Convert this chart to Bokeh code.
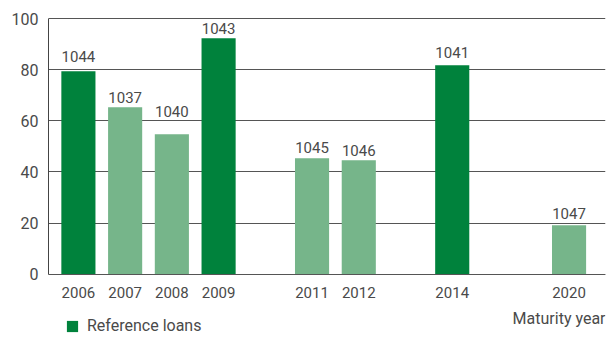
from bokeh.plotting import figure
from bokeh.models import (ColumnDataSource, Range1d, FixedTicker, Legend, LegendItem, Label)
from bokeh.core.properties import value
from bokeh.embed import file_html
from bokeh.resources import INLINE

# ---- data ----
years = ["2006", "2007", "2008", "2009", "2011", "2012", "2014", "2020"]
slots = [0, 1, 2, 3, 5, 6, 8, 10.5]          # category slot on the (broken) year axis
amounts = [79.5, 65.4, 54.8, 92.4, 45.4, 44.6, 81.8, 19.1]
loan_ids = ["1044", "1037", "1040", "1043", "1045", "1046", "1041", "1047"]
label_y = [85.4, 69.3, 63.5, 96.0, 49.5, 48.5, 86.6, 23.8]
is_reference = [True, False, False, True, False, False, True, False]
y_ticks = [0, 20, 40, 60, 80, 100]

DARK = "#00823C"
LIGHT = "#76B58A"
TXT = "#4a4a4a"
FONT = "Roboto"

X0, X1 = -0.64, 11.28
p = figure(width=615, height=338, output_backend="svg", toolbar_location=None,
           x_range=Range1d(X0, X1), y_range=Range1d(-25.2, 100.5),
           min_border_left=48, min_border_right=10, min_border_top=17, min_border_bottom=0)
p.outline_line_color = None
p.background_fill_color = "white"
p.border_fill_color = "white"

def pick(flag):
    idx = [i for i, f in enumerate(is_reference) if f == flag]
    return ColumnDataSource(dict(x=[slots[i] for i in idx], top=[amounts[i] for i in idx]))

r_dark = p.vbar(x="x", top="top", width=0.73, source=pick(True), fill_color=DARK, line_color=None)
r_light = p.vbar(x="x", top="top", width=0.73, source=pick(False), fill_color=LIGHT, line_color=None)

lab_src = ColumnDataSource(dict(x=slots, y=label_y, t=loan_ids))
p.text(x="x", y="y", text="t", source=lab_src, text_align="center", text_baseline="alphabetic",
       text_font=value(FONT), text_font_size="15px", text_color=TXT)

# grid
p.xgrid.grid_line_color = None
p.ygrid.grid_line_color = "#555555"
p.ygrid.ticker = FixedTicker(ticks=y_ticks)

# y axis
p.yaxis.ticker = FixedTicker(ticks=y_ticks)
p.yaxis.bounds = (0, 100)
p.yaxis.major_tick_out = 0
p.yaxis.major_tick_in = 0
p.yaxis.minor_tick_out = 0
p.yaxis.minor_tick_in = 0
p.yaxis.axis_line_color = "#444444"
p.yaxis.major_label_standoff = 10
p.yaxis.major_label_text_font = FONT
p.yaxis.major_label_text_font_size = "16px"
p.yaxis.major_label_text_color = TXT

# x axis drawn at y = 0 inside the frame
p.xaxis.fixed_location = 0
p.xaxis.ticker = FixedTicker(ticks=slots)
p.xaxis.major_label_overrides = {s: y for s, y in zip(slots, years)}
p.xaxis.major_tick_out = 0
p.xaxis.major_tick_in = 0
p.xaxis.minor_tick_out = 0
p.xaxis.minor_tick_in = 0
p.xaxis.axis_line_color = "#555555"
p.xaxis.major_label_standoff = 13
p.xaxis.major_label_text_font = FONT
p.xaxis.major_label_text_font_size = "15px"
p.xaxis.major_label_text_color = TXT

legend = Legend(items=[LegendItem(label="Reference loans", renderers=[r_dark])],
                location=(17, 3), padding=0, margin=0, border_line_color=None,
                background_fill_alpha=0, glyph_width=14, glyph_height=14,
                label_height=14, label_standoff=8,
                label_text_font=FONT, label_text_font_size="16px", label_text_color=TXT)
p.add_layout(legend, "center")

p.add_layout(Label(x=X1, y=-17.3, text="Maturity year", text_align="right",
                   text_baseline="alphabetic", text_font=FONT, text_font_size="16px",
                   text_color=TXT))

open("out.html", "w").write(file_html(p, INLINE))
